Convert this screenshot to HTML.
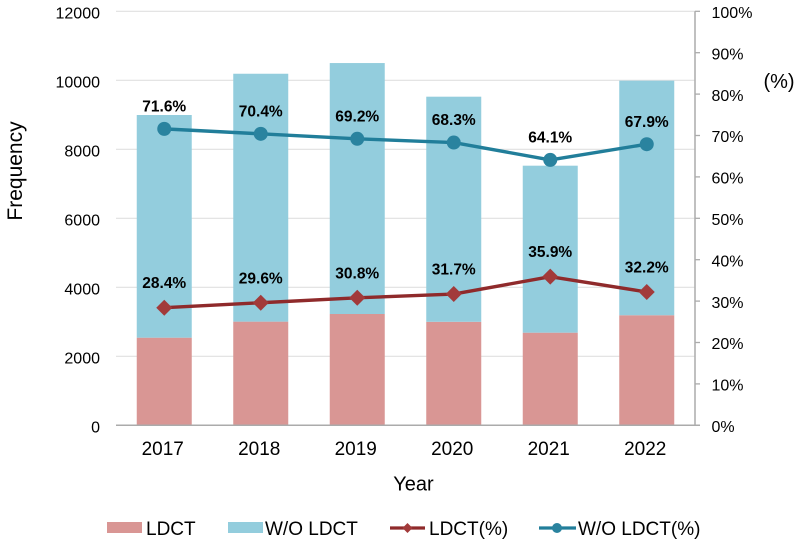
<!DOCTYPE html>
<html>
<head>
<meta charset="utf-8">
<style>
html,body{margin:0;padding:0;background:#fff;width:800px;height:545px;overflow:hidden}
svg{display:block;filter:blur(0.35px)}
text{font-family:"Liberation Sans",sans-serif;fill:#000}
</style>
</head>
<body>
<svg id="chart" width="800" height="545" viewBox="0 0 800 545" xmlns="http://www.w3.org/2000/svg"></svg>
<script>
const years = ['2017', '2018', '2019', '2020', '2021', '2022'];
const ldctCounts = [2540, 3005, 3226, 3000, 2685, 3190];
const withoutLdctCounts = [6454, 7185, 7274, 6525, 4840, 6800];
const ldctPercent = [28.4, 29.6, 30.8, 31.7, 35.9, 32.2];
const withoutLdctPercent = [71.6, 70.4, 69.2, 68.3, 64.1, 67.9];
const leftTicks = [0, 2000, 4000, 6000, 8000, 10000, 12000];
const rightTicks = [0, 10, 20, 30, 40, 50, 60, 70, 80, 90, 100];

const svg = document.getElementById('chart');
const NS = 'http://www.w3.org/2000/svg';
const plotLeft = 116, plotRight = 695, plotTop = 11.3, plotBottom = 425.3;
const barWidth = 55;
const xBand = (plotRight - plotLeft) / years.length;
const xPos = i => plotLeft + xBand * (i + 0.5);
const yLeft = v => plotBottom - (v / 12000) * (plotBottom - plotTop);
const yRight = v => plotBottom - (v / 100) * (plotBottom - plotTop);

function make(tag, attrs, text) {
  const el = document.createElementNS(NS, tag);
  for (const k in attrs) el.setAttribute(k, attrs[k]);
  if (text !== undefined) el.textContent = text;
  svg.appendChild(el);
  return el;
}

let el;

leftTicks.forEach(t => {
  if (t > 0) {
    el = make('line', {x1: plotLeft, x2: plotRight, y1: yLeft(t), y2: yLeft(t), stroke: '#e0e0e0', 'stroke-width': 1.2});
    
    
  }
  el = make('text', {x: 100, y: yLeft(t) + 7, 'text-anchor': 'end', 'font-size': 16}, String(t));
  
  
});

years.forEach((yr, i) => {
  const x = xPos(i) - barWidth / 2;
  el = make('rect', {x: x, y: yLeft(ldctCounts[i]), width: barWidth, height: plotBottom - yLeft(ldctCounts[i]), fill: '#d99694'});
  
  
  const top = ldctCounts[i] + withoutLdctCounts[i];
  el = make('rect', {x: x, y: yLeft(top), width: barWidth, height: yLeft(ldctCounts[i]) - yLeft(top), fill: '#93cddd'});
  
  
  el = make('text', {x: xPos(i) - 1.5, y: 455, 'text-anchor': 'middle', 'font-size': 19}, yr);
  
  
});

el = make('line', {x1: plotLeft, x2: 700, y1: plotBottom, y2: plotBottom, stroke: '#ababab', 'stroke-width': 1.5});


el = make('line', {x1: plotRight, x2: plotRight, y1: plotTop, y2: plotBottom, stroke: '#ababab', 'stroke-width': 1.5});



rightTicks.forEach(t => {
  el = make('line', {x1: plotRight, x2: 700, y1: yRight(t), y2: yRight(t), stroke: '#ababab', 'stroke-width': 1.3});
  
  
  el = make('text', {x: 711.5, y: yRight(t) + 6.7, 'font-size': 16}, t + '%');
  
  
});

function linePoints(values) {
  return values.map((v, i) => xPos(i) + ',' + yRight(v)).join(' ');
}

el = make('polyline', {points: linePoints(ldctPercent), fill: 'none', stroke: '#8f2a2b', 'stroke-width': 3.4, 'stroke-linejoin': 'round'});


el = make('polyline', {points: linePoints(withoutLdctPercent), fill: 'none', stroke: '#217e9a', 'stroke-width': 3.4, 'stroke-linejoin': 'round'});



years.forEach((yr, i) => {
  const x = xPos(i);
  const yA = yRight(ldctPercent[i]);
  const yB = yRight(withoutLdctPercent[i]);
  el = make('polygon', {points: [x + ',' + (yA - 8), (x + 8) + ',' + yA, x + ',' + (yA + 8), (x - 8) + ',' + yA].join(' '), fill: '#a23a3a'});
  
  
  el = make('circle', {cx: x, cy: yB, r: 7, fill: '#2a839f'});
  
  
  el = make('text', {x: x, y: yA - 19.5, 'text-anchor': 'middle', 'font-size': 15.5, 'font-weight': 'bold'}, ldctPercent[i].toFixed(1) + '%');
  
  
  el = make('text', {x: x, y: yB - 17.3, 'text-anchor': 'middle', 'font-size': 15.5, 'font-weight': 'bold'}, withoutLdctPercent[i].toFixed(1) + '%');
  
  
});

el = make('text', {x: 0, y: 0, transform: 'translate(22,171) rotate(-90)', 'text-anchor': 'middle', 'font-size': 21}, 'Frequency');


el = make('text', {x: 413.5, y: 490.5, 'text-anchor': 'middle', 'font-size': 20}, 'Year');


el = make('text', {x: 779, y: 88, 'text-anchor': 'middle', 'font-size': 20}, '(%)');



el = make('rect', {x: 107, y: 522, width: 35, height: 11, fill: '#d99694'});


el = make('text', {x: 146, y: 535, 'font-size': 19}, 'LDCT');


el = make('rect', {x: 228, y: 522, width: 35, height: 11, fill: '#93cddd'});


el = make('text', {x: 265, y: 535, 'font-size': 19}, 'W/O LDCT');


el = make('line', {x1: 390, x2: 425, y1: 528, y2: 528, stroke: '#8f2a2b', 'stroke-width': 3.2});


el = make('polygon', {points: '407.5,523 412.5,528 407.5,533 402.5,528', fill: '#a23a3a'});


el = make('text', {x: 429, y: 535, 'font-size': 19}, 'LDCT(%)');


el = make('line', {x1: 539, x2: 576, y1: 528, y2: 528, stroke: '#217e9a', 'stroke-width': 3.2});


el = make('circle', {cx: 557, cy: 528, r: 5, fill: '#2a839f'});


el = make('text', {x: 578, y: 535, 'font-size': 19}, 'W/O LDCT(%)');


</script>
</body>
</html>
